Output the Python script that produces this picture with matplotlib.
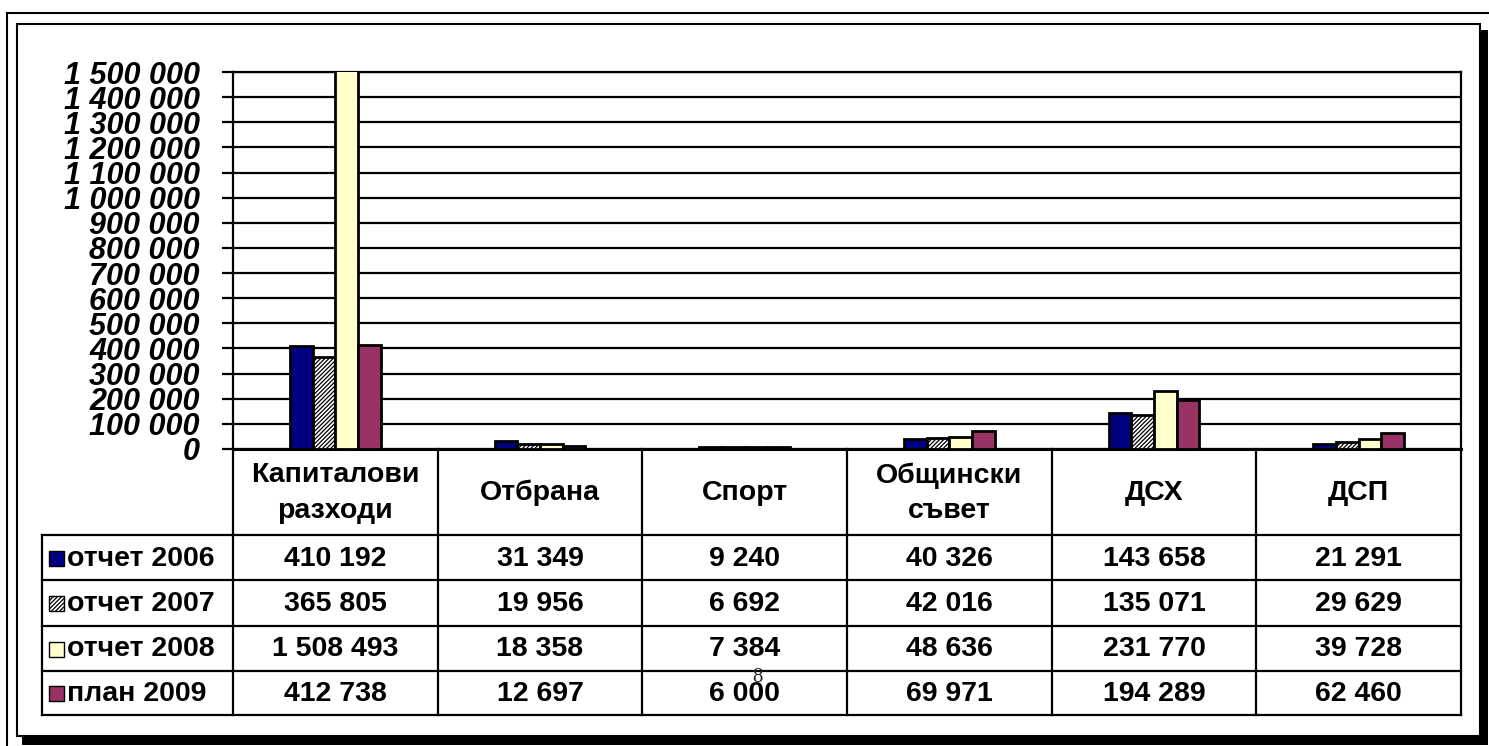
import numpy as np
import matplotlib.pyplot as plt
import matplotlib.patches as mpatches

plt.rcParams['font.family'] = ['Liberation Sans', 'DejaVu Sans']
plt.rcParams['hatch.linewidth'] = 0.9

categories = ['Капиталови\nразходи', 'Отбрана', 'Спорт', 'Общински\nсъвет', 'ДСХ', 'ДСП']
series = ['отчет 2006', 'отчет 2007', 'отчет 2008', 'план 2009']
otchet_2006 = [410192, 31349, 9240, 40326, 143658, 21291]
otchet_2007 = [365805, 19956, 6692, 42016, 135071, 29629]
otchet_2008 = [1508493, 18358, 7384, 48636, 231770, 39728]
plan_2009 = [412738, 12697, 6000, 69971, 194289, 62460]
yticks = np.arange(0, 1500001, 100000)

values = [otchet_2006, otchet_2007, otchet_2008, plan_2009]
colors = ['#000080', '#ffffff', '#ffffcc', '#993366']
hatches = [None, '////////', None, None]

W, H = 1489, 746
fig = plt.figure(figsize=(W / 100, H / 100), dpi=100)
fig.patch.set_facecolor('white')

# background layer in pixel coordinates (frames + data table)
bg = fig.add_axes([0, 0, 1, 1])
bg.set_xlim(0, W)
bg.set_ylim(H, 0)
bg.axis('off')

# page edges and chart frame with shadow
bg.plot([7, 7], [13, H], color='black', lw=1.5)
bg.plot([7, W], [13, 13], color='black', lw=1.5)
bg.add_patch(mpatches.Rectangle((22, 30), 1466, 715, facecolor='black', edgecolor='none'))
bg.add_patch(mpatches.Rectangle((17, 24), 1463, 712, facecolor='white', edgecolor='black', lw=1.5))

# plot area geometry (pixels)
x0, x1 = 233, 1461
y_top, y_zero = 72, 449
col_w = (x1 - x0) / len(categories)
row_y = [535, 580, 626, 671, 715]
tab_left = 42

# table lines
lk = dict(color='black', lw=1.6, solid_capstyle='projecting')
for i in range(len(categories) + 1):
    bg.plot([x0 + i * col_w] * 2, [y_zero, row_y[-1]], **lk)
bg.plot([tab_left, tab_left], [row_y[0], row_y[-1]], **lk)
for y in row_y:
    bg.plot([tab_left, x1], [y, y], **lk)

fs = 20.5
for i, cat in enumerate(categories):
    cx = x0 + (i + 0.5) * col_w
    bg.text(cx, (y_zero + row_y[0]) / 2 + 1, cat, ha='center', va='center',
            fontsize=fs, fontweight='bold', linespacing=1.45)
    for r, vals in enumerate(values):
        cy = (row_y[r] + row_y[r + 1]) / 2 + 1
        bg.text(cx, cy, f'{vals[i]:,}'.replace(',', ' '), ha='center', va='center',
                fontsize=fs, fontweight='bold')

for r, name in enumerate(series):
    cy = (row_y[r] + row_y[r + 1]) / 2 + 1
    bg.add_patch(mpatches.Rectangle((49, cy - 8), 15, 15, facecolor=colors[r],
                                    edgecolor='black', lw=1.0, hatch=hatches[r]))
    bg.text(67, cy, name, ha='left', va='center', fontsize=fs, fontweight='bold')

# stray page number
bg.text(757, 678, '8', ha='center', va='center', fontsize=15,
        family='Liberation Serif', color='#222')

# chart axes
ax = fig.add_axes([x0 / W, 1 - y_zero / H, (x1 - x0) / W, (y_zero - y_top) / H])
ax.set_facecolor('none')
n = len(series)
gap = 1.25
bw = 1 / (1 + gap) / n
x = np.arange(len(categories))
for k, vals in enumerate(values):
    ax.bar(x + (k - (n - 1) / 2) * bw, vals, width=bw, color=colors[k],
           edgecolor='black', linewidth=2.0, hatch=hatches[k], zorder=3)

ax.set_xlim(-0.5, len(categories) - 0.5)
ax.set_ylim(0, 1500000)
ax.set_yticks(yticks)
ax.set_yticklabels([f'{v:,}'.replace(',', ' ') for v in yticks],
                   fontsize=22, fontweight='bold', fontstyle='italic')
ax.tick_params(axis='y', length=8, width=1.6, direction='out', pad=16)
ax.set_xticks([])
ax.yaxis.grid(True, color='black', lw=1.6, zorder=0)
for s in ax.spines.values():
    s.set_color('black')
    s.set_linewidth(1.6)
ax.spines['bottom'].set_linewidth(2.2)

fig.savefig('out.png', dpi=100, facecolor='white')
